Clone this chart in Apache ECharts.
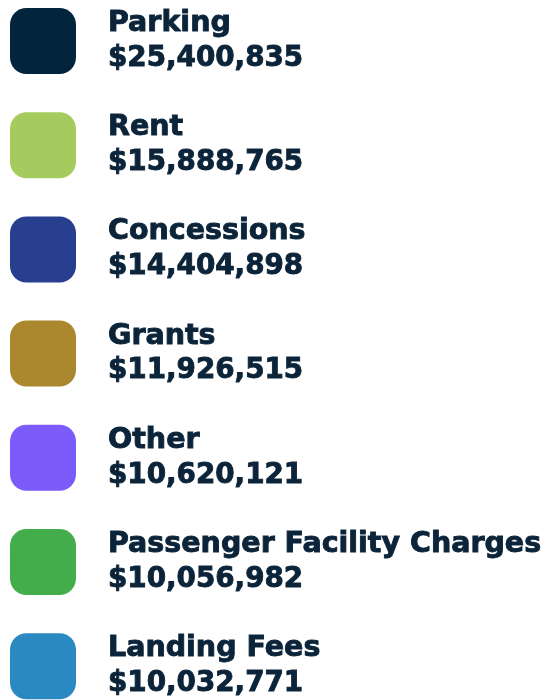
<!DOCTYPE html>
<html><head><meta charset="utf-8">
<script src="https://cdn.jsdelivr.net/npm/echarts@6/dist/echarts.min.js"></script>
<style>html,body{margin:0;padding:0;background:#fff}#c{width:555px;height:700px}</style>
</head><body><div id="c"></div>
<script>
const categories = ['Parking','Rent','Concessions','Grants','Other','Passenger Facility Charges','Landing Fees'];
const values = [25400835,15888765,14404898,11926515,10620121,10056982,10032771];
const colors = ['#02253d','#a5cb5e','#283f8f','#ab882d','#7b5cfa','#42ad4a','#2a89c1'];

const textColor = '#0b2439';
const fontFam = '"DejaVu Sans", sans-serif';
const chart = echarts.init(document.getElementById('c'), null, {renderer:'canvas'});
const icon = 'path://M25,0 H75 C88.8,0 100,11.2 100,25 V75 C100,88.8 88.8,100 75,100 H25 C11.2,100 0,88.8 0,75 V25 C0,11.2 11.2,0 25,0 Z';
const base = {fontFamily:fontFam, fontWeight:'bold', color:textColor, lineHeight:35,
  padding:[0,0,0,27], textBorderColor:textColor, textBorderWidth:0.9};
chart.setOption({
  animation:false,
  color: colors,
  legend: {
    orient:'vertical', left:10, top:8, padding:0,
    itemWidth:66, itemHeight:66, itemGap:38.2,
    icon: icon, selectedMode:false,
    data: categories,
    formatter: function(name){
      const i = categories.indexOf(name);
      return '{n|' + name + '}\n{v|$' + values[i].toLocaleString('en-US') + '}';
    },
    textStyle:{ rich:{ n:Object.assign({fontSize:28.5}, base), v:Object.assign({fontSize:27.8}, base) } }
  },
  series:[{
    type:'pie', radius:[0,0], center:[-100,-100], label:{show:false}, labelLine:{show:false},
    data: categories.map((c,i)=>({name:c, value:values[i]}))
  }]
});
</script></body></html>
